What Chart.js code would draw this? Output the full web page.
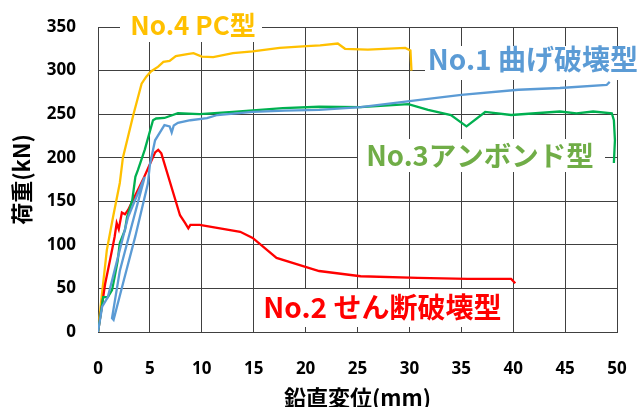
<!DOCTYPE html>
<html><head><meta charset="utf-8">
<script src="https://cdn.jsdelivr.net/npm/chart.js@4"></script>
<style>html,body{margin:0;padding:0;background:#fff}#w{width:638px;height:407px}</style>
</head><body><div id="w"><canvas id="c"></canvas></div>
<script>
const xTicks = [0,5,10,15,20,25,30,35,40,45,50];
const yTicks = [0,50,100,150,200,250,300,350];

const no4X = [0,0.35,0.85,1.45,2.1,2.4,3.4,4.2,4.65,5.1,5.8,6.3,6.9,7.5,8.6,9.2,10,11.1,13,14.9,17.5,20.1,21.4,23.1,23.8,26,29.6,30.1,30.2];
const no4Y = [0,40,94,132,171,200,249,285,293,299,304.5,310,311,316.7,319,320,316,315.5,320,322,326,328,329,331,325,324,326,323,300];

const no1X = [0,0.4,0.95,2.9,4.5,3.2,2.1,1.35,1.5,2.5,3.6,4.8,5.0,5.5,6.4,6.9,7.1,7.3,7.7,8.9,10.5,11.5,14.9,18,21.3,25.3,30.8,35,40.5,44.5,49,49.3];
const no1Y = [0,29,40,132,178,120,70,16,14,60,110,170,192,220,237.5,236,229,237,240,243,245.5,249,252.5,254,255,258,266,272,278,280,283.5,287];

const no3X = [0,0.5,0.95,1.35,1.6,1.9,2.1,2.6,2.8,3.3,3.6,3.85,4.5,5.3,5.6,6.4,7.7,9.8,13,17.8,21.3,25.3,29.9,31.8,34,35.5,37.3,39.8,44.5,46.1,47.7,49.5,49.7,49.8,49.7];
const no3Y = [0,40,40,48,63,82,102,117,132,151,178,186,209,243,245,245.6,251,250,252.5,257,258.5,258,261.5,255,249,236,252.5,249,253,251,253,251,243,220,194];

const no2X = [0,0.7,1.15,1.6,1.8,2.0,2.3,2.6,2.9,4.3,5.5,5.8,6.1,7.9,8.4,8.7,8.9,9.8,13.7,14.9,17.2,21.3,25.3,30.8,35.6,39.8,40.2];
const no2Y = [0,56,82,109,125,118,137,135,140,174,206,209,205,134,125,119,123,123,115,108,85,70,64,62,61,61,56];

const labels = [
  {text:'No.4 PC型', x:9.15, y:352.3, color:'#FFC000', size:26, box:[120,262,10,42]},
  {text:'No.1 曲げ破壊型', x:41.9, y:313.3, color:'#5B9BD5', size:28, box:[425,638,46,80]},
  {text:'No.3アンボンド型', x:36.8, y:203, color:'#70AD47', size:27.5, box:[358,605,139,172]},
  {text:'No.2 せん断破壊型', x:27.4, y:28.7, color:'#FF0000', size:28, box:[257,508,289,327]}
];

function pts(xs, ys){ return xs.map((x,i)=>({x:x, y:ys[i]})); }

const labelPlugin = {
  id:'lbl',
  beforeDatasetsDraw(chart){
    const ctx = chart.ctx, sx = chart.scales.x, sy = chart.scales.y;
    ctx.save();
    labels.forEach(l=>{
      ctx.fillStyle = '#fff';
      ctx.fillRect(l.box[0], l.box[2], l.box[1]-l.box[0], l.box[3]-l.box[2]);
    });
    ctx.textAlign = 'center';
    ctx.textBaseline = 'middle';
    labels.forEach(l=>{
      ctx.font = 'bold ' + l.size + 'px "Noto Sans CJK JP", "Open Sans", sans-serif';
      ctx.fillStyle = l.color;
      ctx.fillText(l.text, sx.getPixelForValue(l.x), sy.getPixelForValue(l.y));
    });
    ctx.restore();
  }
};

const ds = (label, xs, ys, color) => ({label, data: pts(xs, ys), borderColor: color, borderWidth: 2.3, pointRadius: 0, fill:false, tension:0});

new Chart(document.getElementById('c'), {
  type:'line',
  data:{datasets:[
    ds('No.1', no1X, no1Y, '#5B9BD5'),
    ds('No.3', no3X, no3Y, '#00B050'),
    ds('No.2', no2X, no2Y, '#FF0000'),
    ds('No.4', no4X, no4Y, '#FFC000')
  ]},
  options:{
    responsive:true, maintainAspectRatio:false, animation:false,
    layout:{padding:{top:27,right:21,left:0,bottom:0}},
    plugins:{legend:{display:false}, tooltip:{enabled:false}},
    scales:{
      x:{type:'linear', min:0, max:50,
        afterBuildTicks(s){ s.ticks = xTicks.map(v=>({value:v})); },
        afterFit(s){ s.height = 75; s.paddingLeft = 0; s.paddingRight = 0; },
        grid:{color:'#404040', lineWidth:1, drawTicks:false},
        border:{color:'#404040', width:1},
        ticks:{padding:27, color:'#000', font:{family:'"Open Sans", sans-serif', size:17, weight:'bold'}, maxRotation:0},
        title:{display:true, text:'鉛直変位(mm)', color:'#000', padding:{top:0,bottom:-4}, font:{family:'"Noto Sans CJK JP", sans-serif', size:22, weight:'bold'}}
      },
      y:{min:0, max:350,
        afterBuildTicks(s){ s.ticks = yTicks.map(v=>({value:v})); },
        afterFit(s){ s.width = 98; s.paddingTop = 0; s.paddingBottom = 0; },
        grid:{color:'#404040', lineWidth:1, drawTicks:false},
        border:{color:'#404040', width:1},
        ticks:{padding:22, color:'#000', font:{family:'"Open Sans", sans-serif', size:17, weight:'bold'}},
        title:{display:true, text:'荷重(kN)', color:'#000', padding:{top:8,bottom:0}, font:{family:'"Noto Sans CJK JP", sans-serif', size:22, weight:'bold'}}
      }
    }
  },
  plugins:[labelPlugin]
});
</script></body></html>
